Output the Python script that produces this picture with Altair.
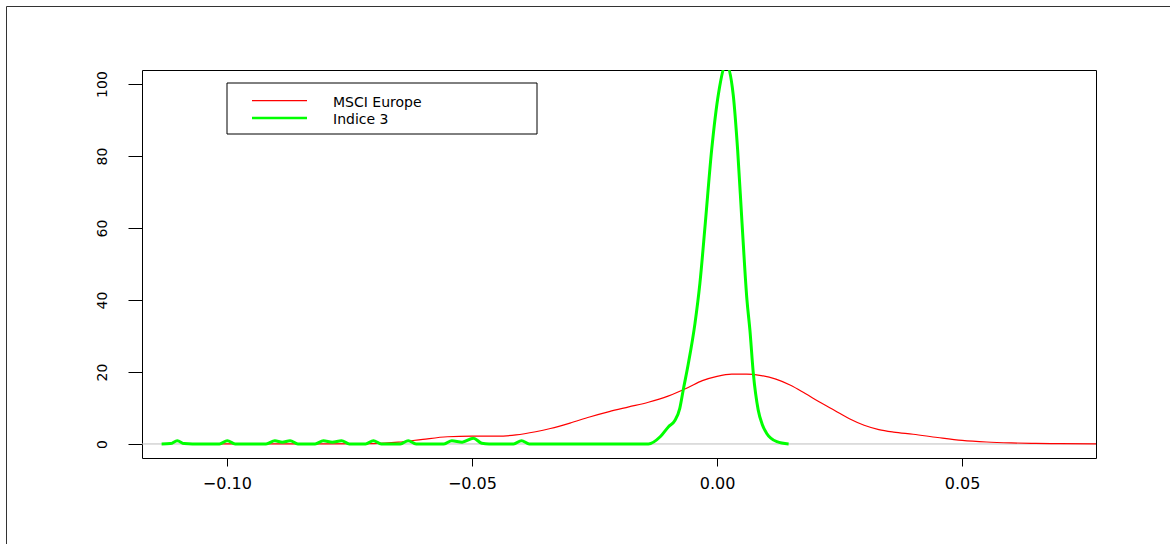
import altair as alt
import pandas as pd

# MSCI Europe density (red)
red_x = [-0.1050, -0.080, -0.070, -0.065, -0.060, -0.055, -0.050, -0.045, -0.041, -0.037,
         -0.034, -0.030, -0.026, -0.022, -0.018, -0.014, -0.010, -0.006, -0.003, 0.000,
         0.003, 0.006, 0.009, 0.012, 0.015, 0.018, 0.021, 0.024, 0.027, 0.030,
         0.033, 0.036, 0.040, 0.045, 0.050, 0.055, 0.060, 0.065, 0.070, 0.0775]
red_y = [0.0, 0.0, 0.1, 0.5, 1.3, 2.0, 2.2, 2.2, 2.5, 3.4,
         4.3, 5.8, 7.5, 9.0, 10.3, 11.6, 13.3, 15.6, 17.6, 18.8,
         19.4, 19.4, 19.0, 18.0, 16.3, 14.0, 11.6, 9.3, 7.0, 5.2,
         4.0, 3.3, 2.7, 1.8, 1.0, 0.55, 0.3, 0.15, 0.07, 0.02]

# Indice 3 density (green)
green_x = [-0.1133, -0.1115, -0.1101, -0.1087, -0.1070,
           -0.1015, -0.0999, -0.0983,
           -0.0920, -0.0902, -0.0887, -0.0871, -0.0855,
           -0.0820, -0.0803, -0.0785, -0.0766, -0.0750,
           -0.0717, -0.0701, -0.0685,
           -0.0646, -0.0630, -0.0614,
           -0.0557, -0.0541, -0.0520, -0.0497, -0.0480, -0.0465,
           -0.0415, -0.0399, -0.0383,
           -0.0140, -0.0116, -0.0099, -0.0086, -0.0076, -0.0069, -0.0059, -0.0045,
           -0.0035, -0.0024, -0.0011, 0.0003, 0.0019, 0.0033, 0.0042, 0.0051,
           0.0061, 0.0067, 0.0074, 0.0084, 0.0092, 0.0101, 0.0122, 0.0146]
green_y = [0.0, 0.1, 0.9, 0.1, 0.0,
           0.0, 0.9, 0.0,
           0.0, 0.9, 0.5, 0.9, 0.0,
           0.0, 0.9, 0.5, 0.9, 0.0,
           0.0, 0.9, 0.0,
           0.0, 0.9, 0.0,
           0.0, 0.9, 0.5, 1.6, 0.2, 0.0,
           0.0, 0.9, 0.0,
           0.0, 2.0, 4.8, 6.5, 9.9, 15.0, 22.0, 33.5,
           44.6, 61.3, 81.7, 97.4, 105.5, 97.0, 81.7, 61.3,
           40.0, 31.7, 19.6, 9.4, 5.5, 3.0, 0.65, 0.0]

x_ticks = [-0.10, -0.05, 0.00, 0.05]
y_ticks = [0, 20, 40, 60, 80, 100]
legend_labels = ["MSCI Europe", "Indice 3"]

red_df = pd.DataFrame({"x": red_x, "y": red_y})
green_df = pd.DataFrame({"x": green_x, "y": green_y})
one = pd.DataFrame({"k": [0]})

FONT = "DejaVu Sans"
W, H = 954, 388

xscale = alt.Scale(domain=[-0.1173, 0.0773], nice=False, zero=False)
yscale = alt.Scale(domain=[-3.9, 103.9], nice=False, zero=False)

xaxis = alt.Axis(values=x_ticks, format=".2f", title="", domain=False, grid=False,
                 tickSize=8, tickColor="black", labelColor="black", labelFont=FONT,
                 labelFontSize=16, labelPadding=9)
yaxis = alt.Axis(values=y_ticks, format="d", title="", domain=False, grid=False,
                 tickSize=14, tickColor="black", labelColor="black", labelFont=FONT,
                 labelFontSize=14, labelAngle=270, labelAlign="center",
                 labelBaseline="alphabetic", labelPadding=22)

zero = alt.Chart(one).mark_rule(color="#bebebe", strokeWidth=1).encode(
    y=alt.datum(0, scale=yscale)
)

red = alt.Chart(red_df).mark_line(color="#ff0000", strokeWidth=1.2, clip=True,
                                  interpolate="monotone").encode(
    x=alt.X("x:Q", scale=xscale, axis=xaxis),
    y=alt.Y("y:Q", scale=yscale, axis=yaxis),
)

green = alt.Chart(green_df).mark_line(color="#00ff00", strokeWidth=3, clip=True,
                                      interpolate="monotone").encode(
    x=alt.X("x:Q", scale=xscale, axis=xaxis),
    y=alt.Y("y:Q", scale=yscale, axis=yaxis),
)

# legend (drawn manually, R style)
box = alt.Chart(one).mark_rect(fill="white", stroke="black", strokeWidth=1).encode(
    x=alt.value(85), x2=alt.value(395), y=alt.value(13), y2=alt.value(64)
)
leg_red = alt.Chart(one).mark_rule(color="#ff0000", strokeWidth=1.2).encode(
    x=alt.value(110), x2=alt.value(165), y=alt.value(30.7)
)
leg_green = alt.Chart(one).mark_rule(color="#00ff00", strokeWidth=2.5).encode(
    x=alt.value(110), x2=alt.value(165), y=alt.value(48)
)
leg_t1 = alt.Chart(one).mark_text(align="left", baseline="alphabetic", font=FONT,
                                  fontSize=14, color="black").encode(
    x=alt.value(191), y=alt.value(36.5), text=alt.value(legend_labels[0])
)
leg_t2 = alt.Chart(one).mark_text(align="left", baseline="alphabetic", font=FONT,
                                  fontSize=14, color="black").encode(
    x=alt.value(191), y=alt.value(54), text=alt.value(legend_labels[1])
)

# outer figure border (top and left visible)
border_top = alt.Chart(one).mark_rule(color="#333333", strokeWidth=1).encode(
    x=alt.value(-135.5), x2=alt.value(1040), y=alt.value(-63.5)
)
border_left = alt.Chart(one).mark_rule(color="#333333", strokeWidth=1).encode(
    x=alt.value(-135.5), y=alt.value(-63.5), y2=alt.value(480)
)

chart = alt.layer(
    zero, red, green, box, leg_red, leg_green, leg_t1, leg_t2, border_top, border_left
).properties(
    width=W, height=H,
    autosize=alt.AutoSizeParams(type="none"),
    padding={"left": 142, "top": 70, "right": 74, "bottom": 86},
    background="white",
).configure_view(stroke="black", strokeWidth=1)

chart.save("out.html", embed_options={"renderer": "svg", "actions": False})
